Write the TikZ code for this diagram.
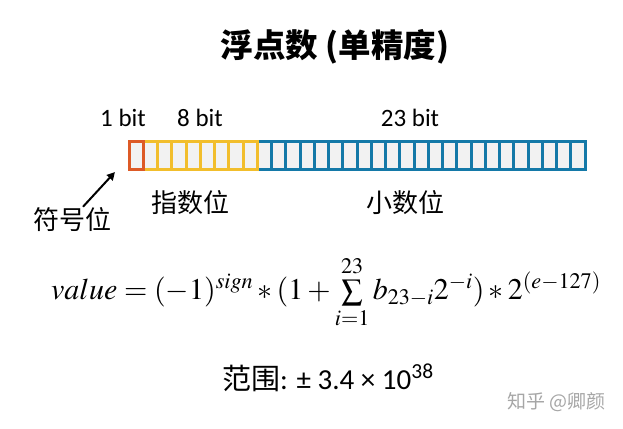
\documentclass[tikz,border=0pt]{standalone}
\usepackage{mathptmx}
\usepackage{fontspec}
\usepackage{xcolor}
\usetikzlibrary{arrows.meta,positioning}
\setmainfont{Carlito}
\newfontfamily\cjk{Noto Sans CJK SC}
\definecolor{signc}{HTML}{DD5A26}
\definecolor{expc}{HTML}{F2BE2C}
\definecolor{mantc}{HTML}{1479A8}
\definecolor{cellgray}{HTML}{F2F2F2}

\begin{document}
\begin{tikzpicture}[
        x=1pt, y=-1pt,
        cell/.style={draw, line width=3pt,
            minimum width=14.25pt, minimum height=28pt, inner sep=0pt},
        bits/.style={font=\fontsize{25}{29}\selectfont, inner sep=0pt},
        zh/.style={font=\cjk\fontsize{26}{30}\selectfont, inner sep=0pt}]
        \useasboundingbox (0,0) rectangle (623,428);
        % TITLE
        \node[font=\cjk\bfseries\fontsize{32.5}{36}\selectfont] (title) at (335,47) {浮点数 (单精度)};
        % CELLS
        \fill[cellgray] (129,141) rectangle (585,169);
        % mantissa
        \foreach \i in {9,...,31} {\node[cell, draw=mantc] (c\i) at ({136.125+14.25*\i},155) {};}
        % exponent
        \foreach \i in {1,...,8} {\node[cell, draw=expc] (c\i) at ({136.125+14.25*\i},155) {};}
        % sign
        \node[cell, draw=signc] (c0) at (136.125,155) {};
        % LABELS
        \node[bits] (b1) at (123,118) {1 bit};
        \node[bits] (b8) at (200,118) {8 bit};
        \node[bits] (b23) at (410,118) {23 bit};
        \node[zh] (exp) at (190,203) {指数位};
        \node[zh] (mant) at (405,203) {小数位};
        \node[zh] (sign) at (72,220) {符号位};
        \coordinate (tip) at (115,172);
        % formula
        \node[font=\fontsize{30}{36}\selectfont] (formula) at (326,292)
            {$value = (-1)^{sign} * (1+\sum\limits_{i=1}^{23} b_{23-i}2^{-i}) * 2^{(e-127)}$};
        % range
        \node[anchor=west, inner sep=0pt, font=\fontsize{29}{33}\selectfont] (range) at (222,378)
            {{\cjk 范围}: ± 3.4 × 10\textsuperscript{38}};
        % watermark
        \node[anchor=west, inner sep=0pt, text=black!35, font=\cjk\fontsize{19}{22}\selectfont] (mark) at (507,402) {知乎 @卿颜};
        % ARROWS
        \draw[-{Triangle[length=8pt,width=8pt]}, line width=2pt] ([xshift=11pt,yshift=1pt]sign.north) -- (tip);
\end{tikzpicture}
\end{document}
